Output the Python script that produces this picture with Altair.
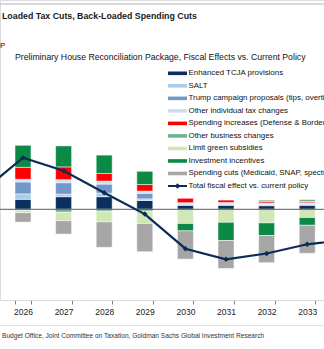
import altair as alt
import pandas as pd

# ---------------- data (units: % of GDP) ----------------
years = ["2026", "2027", "2028", "2029", "2030", "2031", "2032", "2033"]
all_years = ["2025", "2026", "2027", "2028", "2029", "2030", "2031", "2032", "2033", "2034"]

categories = [
    "Enhanced TCJA provisions",
    "SALT",
    "Trump campaign proposals (tips, overtime, etc.)",
    "Other individual tax changes",
    "Spending increases (Defense & Border)",
    "Other business changes",
    "Limit green subsidies",
    "Investment incentives",
    "Spending cuts (Medicaid, SNAP, spectrum)",
]
line_label = "Total fiscal effect vs. current policy"

tcja = [0.050, 0.063, 0.063, 0.044, 0.020, 0.020, 0.018, 0.020]
salt = [0.027, 0.013, 0.018, 0.008, 0.006, 0.006, 0.006, 0.006]
trump = [0.060, 0.057, 0.045, 0.028, 0.0, 0.0, 0.0, 0.0]
other_indiv = [0.013, 0.015, 0.015, 0.011, 0.007, 0.008, 0.007, 0.007]
spend_inc = [0.060, 0.064, 0.038, 0.033, 0.022, 0.012, 0.007, 0.006]
other_bus = [-0.005, -0.015, -0.010, -0.010, 0.0, 0.0, 0.008, 0.010]
green_subs = [-0.012, -0.042, -0.053, -0.061, -0.071, -0.065, -0.068, -0.041]
invest = [0.110, 0.105, 0.092, 0.066, -0.037, -0.091, -0.063, -0.039]
spend_cuts = [-0.047, -0.067, -0.127, -0.141, -0.141, -0.140, -0.136, -0.140]

total = [0.090, 0.258, 0.193, 0.083, -0.024, -0.197, -0.250, -0.221, -0.175, -0.151]

colors = ["#0b2f5e", "#a8cdec", "#7198c9", "#cddff2", "#ff0000",
          "#6fb48d", "#d2e7b6", "#0b8a46", "#a6a6a6"]
navy = "#0c2c58"

series = [tcja, salt, trump, other_indiv, spend_inc, other_bus, green_subs, invest, spend_cuts]

rows = []
for k, (name, vals) in enumerate(zip(categories, series)):
    for y, v in zip(years, vals):
        if v != 0:
            rows.append({"year": y, "category": name, "k": k, "value": v})
bars_df = pd.DataFrame(rows)
line_df = pd.DataFrame({"year": all_years, "total": total})
legend_df = pd.DataFrame({"name": categories, "idx": list(range(len(categories)))})
legend_text_df = pd.DataFrame({"name": categories + [line_label],
                               "idx": list(range(len(categories) + 1))})
legend_line_df = pd.DataFrame({"name": [line_label], "idx": [len(categories)]})

FONT = "Liberation Sans, Arial, sans-serif"

xscale = alt.Scale(domain=all_years, range=[-37.9, 368.1], paddingInner=0.606, paddingOuter=0.303)
ydomain = [-0.4535, 1.0465]
yscale = alt.Scale(domain=ydomain, nice=False, zero=False)
cscale = alt.Scale(domain=categories, range=colors)

x_enc = alt.X("year:O", scale=xscale,
              axis=alt.Axis(title=None, labelAngle=0, tickBand="extent", tickSize=4,
                            values=years,
                            tickColor="#7f7f7f", domainColor="#d9d9d9", domainWidth=1,
                            labelFont=FONT, labelFontSize=8.5, labelColor="#222222",
                            labelPadding=3, grid=False))

bars = alt.Chart(bars_df).mark_bar(stroke="white", strokeWidth=0.5).encode(
    x=x_enc,
    y=alt.Y("value:Q", scale=yscale, axis=None, stack="zero"),
    color=alt.Color("category:N", scale=cscale, legend=None),
    order=alt.Order("k:Q", sort="ascending"),
)

zero = alt.Chart(pd.DataFrame({"z": [0]})).mark_rule(color="#595959", strokeWidth=1).encode(
    y=alt.Y("z:Q", scale=yscale, axis=None)
)

line = alt.Chart(line_df).mark_line(
    color=navy, strokeWidth=2.2,
    point=alt.OverlayMarkDef(shape="diamond", size=30, filled=True, color=navy),
).encode(
    x=alt.X("year:O", scale=xscale),
    y=alt.Y("total:Q", scale=yscale, axis=None),
)

main = alt.layer(bars, zero, line)

lscale = alt.Scale(domain=[0, 9], range=[73.3, 186], nice=False, zero=False)

leg_sw = alt.Chart(legend_df).mark_rule(strokeWidth=3.6, strokeCap="butt").encode(
    x=alt.value(168), x2=alt.value(187),
    y=alt.Y("idx:Q", scale=lscale, axis=None),
    color=alt.Color("name:N", scale=cscale, legend=None),
)
leg_line = alt.Chart(legend_line_df).mark_rule(strokeWidth=2, color=navy).encode(
    x=alt.value(168), x2=alt.value(187),
    y=alt.Y("idx:Q", scale=lscale, axis=None),
)
leg_pt = alt.Chart(legend_line_df).mark_point(shape="diamond", size=30, filled=True,
                                               color=navy, opacity=1).encode(
    x=alt.value(177.5),
    y=alt.Y("idx:Q", scale=lscale, axis=None),
)
leg_txt = alt.Chart(legend_text_df).mark_text(align="left", baseline="middle", font=FONT,
                                               fontSize=7.9, color="#111111").encode(
    x=alt.value(188.5),
    y=alt.Y("idx:Q", scale=lscale, axis=None),
    text="name:N",
)
legend = alt.layer(leg_sw, leg_line, leg_pt, leg_txt)

# ---------------- titles / frame text ----------------
one = pd.DataFrame({"a": [0]})
top_rule = alt.Chart(one).mark_rule(color="#b3b3b3", strokeWidth=1.2).encode(
    x=alt.value(0), x2=alt.value(324), y=alt.value(4))
bottom_rule = alt.Chart(one).mark_rule(color="#e3e3e3", strokeWidth=1).encode(
    x=alt.value(0), x2=alt.value(324), y=alt.value(325.5))
title = alt.Chart(one).mark_text(align="left", baseline="middle", font=FONT,
                                 fontWeight="bold", fontSize=8.8, color="#1a1a1a",
                                 text="Loaded Tax Cuts, Back-Loaded Spending Cuts").encode(
    x=alt.value(2), y=alt.value(16))
pmark = alt.Chart(one).mark_text(align="left", baseline="middle", font=FONT,
                                 fontSize=8, color="#111111", text="P").encode(
    x=alt.value(0), y=alt.value(46))
subtitle = alt.Chart(one).mark_text(align="left", baseline="middle", font=FONT,
                                    fontSize=8.7, color="#111111",
                                    text="Preliminary House Reconciliation Package, Fiscal Effects vs. Current Policy").encode(
    x=alt.value(15), y=alt.value(56.5))
source = alt.Chart(one).mark_text(align="left", baseline="middle", font=FONT,
                                  fontSize=6.6, color="#333333",
                                  text="Budget Office, Joint Committee on Taxation, Goldman Sachs Global Investment Research").encode(
    x=alt.value(2), y=alt.value(335.5))
texts = alt.layer(top_rule, bottom_rule, title, pmark, subtitle, source)

chart = alt.layer(main, legend, texts).resolve_scale(y="independent").properties(
    width=324, height=300,
    autosize=alt.AutoSizeParams(type="none"),
    padding={"left": 0, "top": 0, "right": 0, "bottom": 49},
).configure_view(stroke=None).configure(background="white")

chart.save("out.html", embed_options={"renderer": "svg", "actions": False})
